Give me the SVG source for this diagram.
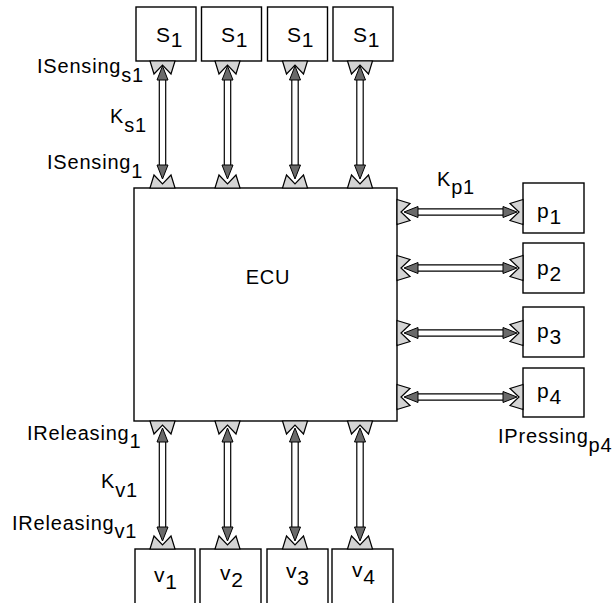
<svg xmlns="http://www.w3.org/2000/svg" xmlns:xlink="http://www.w3.org/1999/xlink" width="615" height="603" viewBox="0 0 615 603">
<style>
.box{fill:#fff;stroke:#000;stroke-width:1.4}
.port{fill:#d4d4d4;stroke:#000;stroke-width:1.2;stroke-linejoin:miter}
.shaft{stroke:#000;stroke-width:1.2}
.ah{fill:#6a6a6a;stroke:#000;stroke-width:1}
text{font-family:"Liberation Sans",Arial,sans-serif;font-size:20px;fill:#000;letter-spacing:0.8px}
.nl{font-size:21px}
</style>
<defs>
<polygon id="port" class="port" points="-12.5,0 -8.5,-13 0,-4 8.5,-13 12.5,0"/>
<g id="conn">
<line class="shaft" x1="-3.2" y1="13" x2="-3.2" y2="100"/>
<line class="shaft" x1="3.2" y1="13" x2="3.2" y2="100"/>
<polygon class="ah" points="0,0 -5.5,14 5.5,14"/>
<polygon class="ah" points="0,113 -5.5,99 5.5,99"/>
</g>
</defs>
<rect width="615" height="603" fill="#fff"/>

<g id="connectors">
<use xlink:href="#conn" transform="translate(162.5,66)"/>
<use xlink:href="#conn" transform="translate(227.5,66)"/>
<use xlink:href="#conn" transform="translate(295,66)"/>
<use xlink:href="#conn" transform="translate(360,66)"/>
<use xlink:href="#conn" transform="translate(162.5,428)"/>
<use xlink:href="#conn" transform="translate(227.5,428)"/>
<use xlink:href="#conn" transform="translate(295,428)"/>
<use xlink:href="#conn" transform="translate(360,428)"/>
<use xlink:href="#conn" transform="translate(404,212) rotate(-90)"/>
<use xlink:href="#conn" transform="translate(404,268) rotate(-90)"/>
<use xlink:href="#conn" transform="translate(404,333) rotate(-90)"/>
<use xlink:href="#conn" transform="translate(404,397) rotate(-90)"/>
</g>

<g id="ECU">
<rect class="box" x="134" y="188" width="263" height="233"/>
<use xlink:href="#port" transform="translate(162.5,188)"/>
<use xlink:href="#port" transform="translate(227.5,188)"/>
<use xlink:href="#port" transform="translate(295,188)"/>
<use xlink:href="#port" transform="translate(360,188)"/>
<use xlink:href="#port" transform="translate(162.5,421) rotate(180)"/>
<use xlink:href="#port" transform="translate(227.5,421) rotate(180)"/>
<use xlink:href="#port" transform="translate(295,421) rotate(180)"/>
<use xlink:href="#port" transform="translate(360,421) rotate(180)"/>
<use xlink:href="#port" transform="translate(397,212) rotate(90)"/>
<use xlink:href="#port" transform="translate(397,268) rotate(90)"/>
<use xlink:href="#port" transform="translate(397,333) rotate(90)"/>
<use xlink:href="#port" transform="translate(397,397) rotate(90)"/>
<text x="268" y="284" text-anchor="middle">ECU</text>
</g>

<g id="s1a"><rect class="box" x="136" y="7" width="60" height="54"/><use xlink:href="#port" transform="translate(162.5,61) rotate(180)"/><text class="nl" x="156" y="42">S<tspan dy="5">1</tspan></text></g>
<g id="s1b"><rect class="box" x="201.5" y="7" width="60" height="54"/><use xlink:href="#port" transform="translate(227.5,61) rotate(180)"/><text class="nl" x="221" y="42">S<tspan dy="5">1</tspan></text></g>
<g id="s1c"><rect class="box" x="267.5" y="7" width="60" height="54"/><use xlink:href="#port" transform="translate(295,61) rotate(180)"/><text class="nl" x="287" y="42">S<tspan dy="5">1</tspan></text></g>
<g id="s1d"><rect class="box" x="333" y="7" width="60" height="54"/><use xlink:href="#port" transform="translate(360,61) rotate(180)"/><text class="nl" x="353" y="42">S<tspan dy="5">1</tspan></text></g>

<g id="p1"><rect class="box" x="523" y="183" width="61" height="50"/><use xlink:href="#port" transform="translate(523,212) rotate(-90)"/><text class="nl" x="537" y="218">p<tspan dy="6">1</tspan></text></g>
<g id="p2"><rect class="box" x="523" y="243" width="61" height="50"/><use xlink:href="#port" transform="translate(523,268) rotate(-90)"/><text class="nl" x="537" y="275">p<tspan dy="6">2</tspan></text></g>
<g id="p3"><rect class="box" x="523" y="307" width="61" height="50"/><use xlink:href="#port" transform="translate(523,333) rotate(-90)"/><text class="nl" x="537" y="338">p<tspan dy="6">3</tspan></text></g>
<g id="p4"><rect class="box" x="523" y="368" width="61" height="49"/><use xlink:href="#port" transform="translate(523,397) rotate(-90)"/><text class="nl" x="537" y="398">p<tspan dy="6">4</tspan></text></g>

<g id="v1"><rect class="box" x="135" y="549" width="60" height="70"/><use xlink:href="#port" transform="translate(162.5,549)"/><text class="nl" x="154" y="582">v<tspan dy="7">1</tspan></text></g>
<g id="v2"><rect class="box" x="200" y="549" width="61" height="70"/><use xlink:href="#port" transform="translate(227.5,549)"/><text class="nl" x="220" y="580">v<tspan dy="7">2</tspan></text></g>
<g id="v3"><rect class="box" x="267" y="549" width="61" height="70"/><use xlink:href="#port" transform="translate(295,549)"/><text class="nl" x="286" y="578">v<tspan dy="7">3</tspan></text></g>
<g id="v4"><rect class="box" x="332" y="549" width="61" height="70"/><use xlink:href="#port" transform="translate(360,549)"/><text class="nl" x="352" y="577">v<tspan dy="7">4</tspan></text></g>

<g id="labels">
<text x="37" y="73">ISensing<tspan dy="9">s1</tspan></text>
<text x="110" y="123">K<tspan dy="9">s1</tspan></text>
<text x="47" y="169">ISensing<tspan dy="9">1</tspan></text>
<text x="437" y="186">K<tspan dy="8">p1</tspan></text>
<text x="498" y="443">IPressing<tspan dy="9">p4</tspan></text>
<text x="27" y="440">IReleasing<tspan dy="8">1</tspan></text>
<text x="101" y="488">K<tspan dy="9">v1</tspan></text>
<text x="12" y="530">IReleasing<tspan dy="8">v1</tspan></text>
</g>
</svg>
